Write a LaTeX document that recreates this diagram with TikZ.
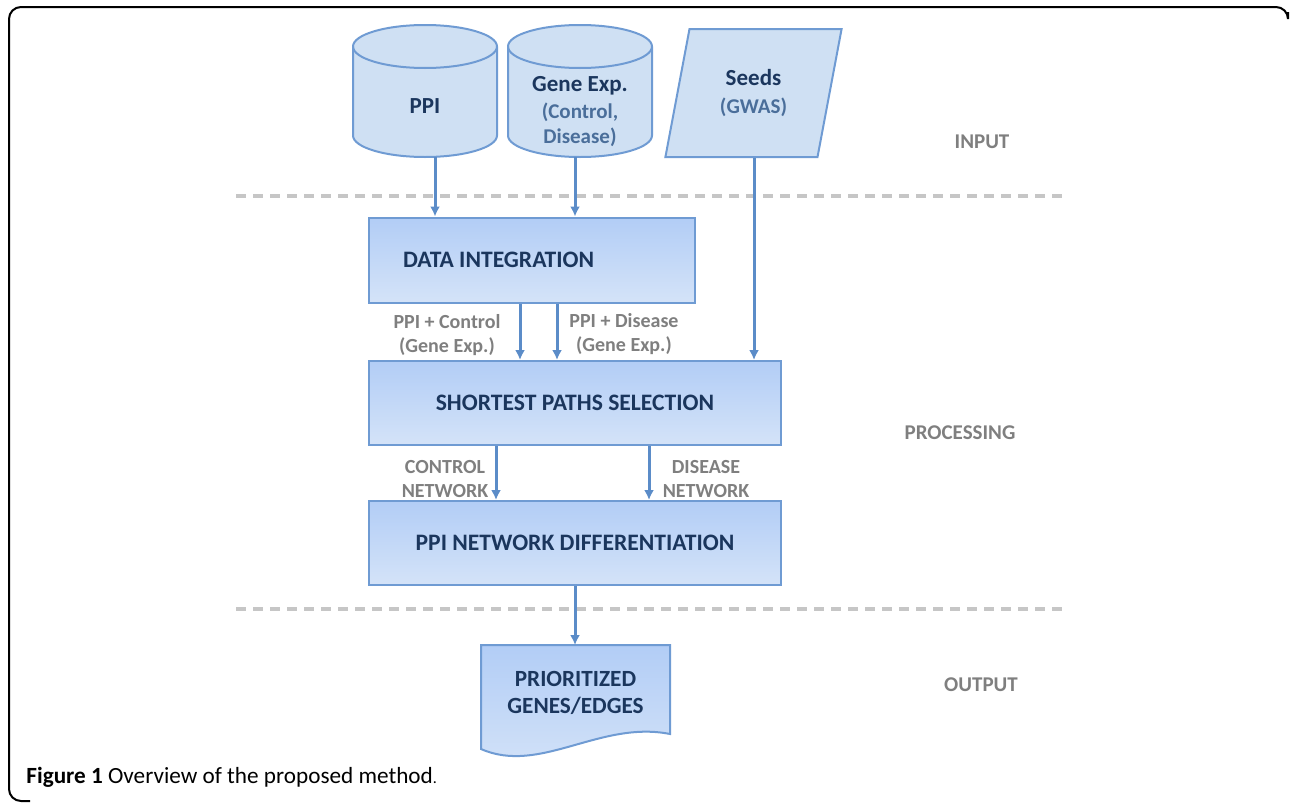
\documentclass[tikz,border=0pt]{standalone}
\usepackage{fontspec}
\setmainfont{Carlito}
\usepackage{tikz}
\usetikzlibrary{shapes, arrows, arrows.meta, positioning}
\definecolor{boxline}{HTML}{6F9BD3}
\definecolor{arrowblue}{HTML}{5B8CC8}
\definecolor{navy}{HTML}{1B365D}
\definecolor{subblue}{HTML}{4A6E9A}
\definecolor{labelgray}{HTML}{7F7F7F}
\definecolor{dashgray}{HTML}{C6C6C6}
\definecolor{boxtop}{HTML}{B2CDF6}
\definecolor{boxbot}{HTML}{D4E3F8}
\definecolor{cylfill}{HTML}{CFE0F3}
\tikzstyle{procbox} = [rectangle, draw=boxline, line width=1pt, top color=boxtop, bottom color=boxbot, text=navy, font=\fontsize{11.8}{14}\selectfont\bfseries]
\tikzstyle{dbnode} = [rectangle, minimum width=72pt, minimum height=66pt, inner sep=0pt, outer sep=0pt]
\tikzstyle{dbtext} = [text=navy, align=center, font=\fontsize{11.5}{12.5}\selectfont\bfseries]
\tikzstyle{cyl} = [draw=boxline, line width=1pt, fill=cylfill]
\tikzstyle{seednode} = [trapezium, trapezium left angle=76, trapezium right angle=104, trapezium stretches=true, draw=boxline, line width=1pt, fill=cylfill, minimum width=88.5pt, minimum height=64pt, text=navy, align=center, font=\fontsize{11.5}{13}\selectfont\bfseries]
\tikzstyle{arrow} = [draw=arrowblue, line width=1.5pt, -{Latex[length=5pt,width=5pt]}]
\tikzstyle{note} = [text=labelgray, align=center, font=\fontsize{10}{12}\selectfont\bfseries]
\tikzstyle{stage} = [text=labelgray, font=\fontsize{10.5}{12}\selectfont\bfseries]
\tikzstyle{sep} = [draw=dashgray, line width=2pt, dash pattern=on 5pt off 3.5pt]
\newcommand{\subtxt}[1]{{\color{subblue}\fontsize{10.5}{12.5}\selectfont #1}}
% cylinder: #1 centre x, #2 top y, #3 bottom y (pixels)
\newcommand{\database}[3]{%
  \path [cyl] (#1-72,#2+21.5) -- (#1-72,#3-21.5)
    arc [start angle=180, end angle=360, x radius=36pt, y radius=10.75pt]
    -- (#1+72,#2+21.5)
    arc [start angle=0, end angle=180, x radius=36pt, y radius=10.75pt] -- cycle;
  \draw [boxline, line width=1pt] (#1-72,#2+21.5)
    arc [start angle=180, end angle=360, x radius=36pt, y radius=10.75pt];}

\begin{document}
\begin{tikzpicture}[x=0.5pt, y=-0.5pt]
  \useasboundingbox (0,0) rectangle (1290,803);
  % frame
  \draw[line width=1pt, rounded corners=6pt] (30,801) -- (9,801) -- (9,7) -- (1288,7) -- (1288,12);

  % input
  \database{425}{25}{157}
  \database{580}{25}{157}
  \node [dbnode, label={[dbtext, yshift=-7.5pt]center:PPI}] (ppi) at (425,91) {};
  \node [dbnode, label={[dbtext, yshift=-10.5pt]center:{Gene Exp.\\[1pt]\subtxt{(Control,}\\\subtxt{Disease)}}}] (gene) at (580,91) {};
  \node [seednode] (seeds) at (753.5,93) {Seeds\\[1pt]\subtxt{(GWAS)}};

  % processing
  \node [procbox, minimum height=42.5pt, text width=129pt, inner xsep=17pt, align=flush left] (integ) at (532,260) {DATA INTEGRATION};
  \node [procbox, minimum width=206pt, minimum height=42pt] (paths) at (575,403) {SHORTEST PATHS SELECTION};
  \node [procbox, minimum width=206pt, minimum height=42pt] (diff) at (575,543) {PPI NETWORK DIFFERENTIATION};

  % output
  \path [top color=boxtop, bottom color=boxbot, draw=boxline, line width=1pt]
    (481,645) -- (670,645) -- (670,734) .. controls (600,720) and (540,775) .. (481,749) -- cycle;
  \node [text=navy, align=center, font=\fontsize{11.6}{13.5}\selectfont\bfseries, minimum width=94.5pt] (prio) at (575.5,693) {PRIORITIZED\\GENES/EDGES};
  \coordinate (prioTop) at (575,645);

  % separators
  \path [sep] (236,196) -- (1068,196);
  \path [sep] (236,609) -- (1068,609);

  % stage labels
  \node [stage] (inlab) at (982,142) {INPUT};
  \node [stage] (proclab) at (960,433) {PROCESSING};
  \node [stage] (outlab) at (981,685) {OUTPUT};

  % arrow columns
  \coordinate (cPpi) at (435,0);
  \coordinate (cGene) at (575,0);
  \coordinate (cSeed) at (754,0);
  \coordinate (cCtlA) at (520,0);
  \coordinate (cDisA) at (557,0);
  \coordinate (cCtlB) at (496,0);
  \coordinate (cDisB) at (649,0);

  \path [arrow] (ppi.south -| cPpi) -- (integ.north -| cPpi);
  \path [arrow] (gene.south -| cGene) -- (integ.north -| cGene);
  \path [arrow] (seeds.south -| cSeed) -- (paths.north -| cSeed);
  \path [arrow] (integ.south -| cCtlA) -- (paths.north -| cCtlA);
  \path [arrow] (integ.south -| cDisA) -- (paths.north -| cDisA);
  \path [arrow] (paths.south -| cCtlB) -- (diff.north -| cCtlB);
  \path [arrow] (paths.south -| cDisB) -- (diff.north -| cDisB);
  \path [arrow] (diff.south) -- (prioTop);

  % arrow labels
  \node [note] (ctlIn) at (447,335) {PPI + Control\\(Gene Exp.)};
  \node [note] (disIn) at (624,334) {PPI + Disease\\(Gene Exp.)};
  \node [note] (ctlNet) at (445,479) {CONTROL\\NETWORK};
  \node [note] (disNet) at (706,479) {DISEASE\\NETWORK};

  % caption
  \node [anchor=base west, inner sep=0pt, font=\fontsize{11.6}{13}\selectfont] (caption) at (26,783) {\textbf{Figure 1} Overview of the proposed method{\fontsize{8}{9}\selectfont.}};
\end{tikzpicture}
\end{document}
